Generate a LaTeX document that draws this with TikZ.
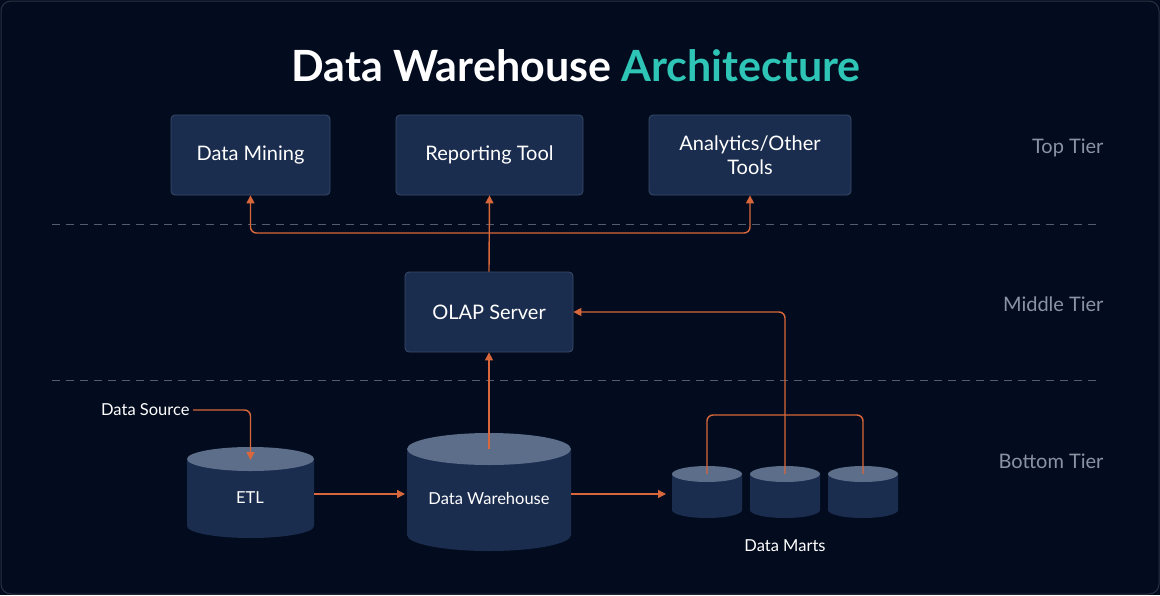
\documentclass[tikz,border=0pt]{standalone}
\usepackage{fontspec}
\setmainfont{Lato}
\usetikzlibrary{arrows.meta}
\definecolor{bg}{HTML}{030C1E}
\definecolor{boxf}{HTML}{1B2D4F}
\definecolor{boxd}{HTML}{3A4B6A}
\definecolor{cyltop}{HTML}{5C6E8A}
\definecolor{org}{HTML}{D8673C}
\definecolor{teal}{HTML}{2EC4B6}
\definecolor{tier}{HTML}{8A93A3}
\tikzset{
 box/.style={draw=boxd,fill=boxf,rounded corners=4pt,line width=0.8pt,text=white,font=\fontsize{20}{24}\selectfont,align=center,inner sep=0},
 con/.style={draw=org,line width=1.4pt,rounded corners=6pt},
 arr/.style={con,-{Triangle[length=8pt,width=8pt]}},
 tierl/.style={text=tier,font=\fontsize{20}{24}\selectfont,anchor=east},
 lbl/.style={text=white,font=\fontsize{16.5}{20}\selectfont},
}
\newcommand{\mycyl}[6]{% name, cx, halfw, ytop, ybot, ry
 \fill[boxf] (#2-#3,#4) -- (#2-#3,#5) arc[start angle=180,end angle=0,x radius=#3,y radius=#6] -- (#2+#3,#4) -- cycle;
 \fill[cyltop] (#2,#4) ellipse[x radius=#3,y radius=#6];
 \coordinate (#1t) at (#2,#4);
 \coordinate (#1l) at (#2-#3,{(#4+#5)/2});
 \coordinate (#1r) at (#2+#3,{(#4+#5)/2});
}
\begin{document}
\begin{tikzpicture}[x=1pt,y=-1pt]
\useasboundingbox (0,0) rectangle (1160,595);
\fill[bg] (0,0) rectangle (1160,595);
\draw[white!15!bg,line width=1pt,rounded corners=10pt] (1,1) rectangle (1159,594);
\node[font=\fontsize{43}{48}\selectfont\bfseries,text=white] (title) at (576,66) {Data Warehouse \textcolor{teal}{Architecture}};
\draw[tier!60!bg,dashed,dash pattern=on 8pt off 6pt,line width=0.8pt] (52,224) -- (1100,224) (52,380) -- (1100,380);
\node[tierl] (t1) at (1107,148) {Top Tier};
\node[tierl] (t2) at (1107,304) {Middle Tier};
\node[tierl] (t3) at (1107,461) {Bottom Tier};
\node[box,minimum width=159pt,minimum height=80pt] (dm) at (250.5,155) {Data Mining};
\node[box,minimum width=187pt,minimum height=80pt] (rt) at (489.5,155) {Reporting Tool};
\node[box,minimum width=202pt,minimum height=80pt] (an) at (750,155) {Analytics/Other\\Tools};
\node[box,minimum width=168pt,minimum height=80pt] (olap) at (489,312) {OLAP Server};
\mycyl{etl}{250.5}{63.5}{459}{526}{12}
\node[lbl] (etln) at (250,498) {ETL};
\mycyl{dw}{489}{82}{449}{535}{16}
\node[lbl] (dwn) at (489,498) {Data Warehouse};
\mycyl{ma}{707}{35}{474}{510}{8}
\mycyl{mb}{785}{35}{474}{510}{8}
\mycyl{mc}{863}{35}{474}{510}{8}
\node[lbl] (dmart) at (785,546) {Data Marts};
\node[lbl,anchor=east] (src) at (193,410) {Data Source};
% connectors
\coordinate (j) at (489,233);
\draw[arr] (olap.north) -- (rt.south);
\draw[arr] (j) -| (dm.south);
\draw[arr] (j) -| (an.south);
\draw[arr] (src.east) -| ([yshift=-1pt]etlt);
\draw[arr] (etlr |- 0,494) -- (405,494);
\draw[arr] (dwr |- 0,494) -- (666,494);
\draw[arr] (dwt) -- (olap.south);
\draw[con] (mat) -- (707,415) -- (863,415) -- (mct);
\draw[arr] (mbt) |- (olap.east |- 0,312);
\end{tikzpicture}
\end{document}
